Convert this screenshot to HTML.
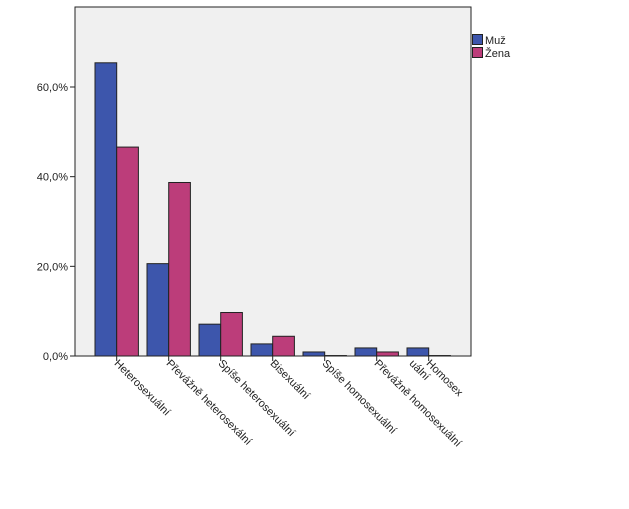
<!DOCTYPE html>
<html><head><meta charset="utf-8"><style>
body{margin:0;background:#fff;}
svg text{font-family:"Liberation Sans",sans-serif;font-size:11px;fill:#222;}
</style></head><body>
<svg id="chart" width="629" height="504" xmlns="http://www.w3.org/2000/svg">
<rect x="75" y="7" width="396" height="349" fill="#f0f0f0" stroke="#222" stroke-width="1"/>
<g id="bars"></g><g id="axes"></g>
<g>
<rect x="472.5" y="34.5" width="10" height="10" fill="#3d56ac" stroke="#222"/>
<text x="485" y="44">Muž</text>
<rect x="472.5" y="47.5" width="10" height="10" fill="#bc3d7a" stroke="#222"/>
<text x="485" y="57">Žena</text>
</g>
</svg>
<script>
const categories=["Heterosexuální","Převážně heterosexální","Spíše heterosexuální","Bisexuální","Spíše homosexuální","Převážně homosexuální","Homosex|uální"];
const muz=[65.4,20.6,7.1,2.7,0.9,1.8,1.8];
const zena=[46.6,38.7,9.7,4.4,0.1,0.9,0.1];
const ticks=[0,20,40,60];
const tickLabels=["0,0%","20,0%","40,0%","60,0%"];
const NS="http://www.w3.org/2000/svg";
const y0=356,pxPer=4.4833;
function y(v){return y0-v*pxPer;}
function xc(i){return 116.7+i*52;}
function mk(t,a,p){const e=document.createElementNS(NS,t);for(const k in a)e.setAttribute(k,a[k]);p.appendChild(e);return e;}
const bars=document.getElementById('bars'),axes=document.getElementById('axes');
categories.forEach((c,i)=>{
  const m=mk('rect',{x:xc(i)-21.7,y:y(muz[i]),width:21.7,height:y0-y(muz[i]),fill:'#3d56ac',stroke:'#222','stroke-width':1},bars);
  
  
  const z=mk('rect',{x:xc(i),y:y(zena[i]),width:21.7,height:y0-y(zena[i]),fill:'#bc3d7a',stroke:'#222','stroke-width':1},bars);
  
  
  const tk=mk('line',{x1:xc(i),x2:xc(i),y1:y0,y2:y0+5,stroke:'#222'},axes);
  
  
  const t=mk('text',{transform:`translate(${xc(i)-3},${y0+8}) rotate(45)`},axes);
  
  
  c.split('|').forEach((s,j)=>{const ts=mk('tspan',{x:j?-12:0,dy:j?12:0},t);ts.textContent=s;});
});
ticks.forEach((v,i)=>{
  const l=mk('line',{x1:70,x2:75,y1:y(v),y2:y(v),stroke:'#222'},axes);
  
  
  const t=mk('text',{x:68,y:y(v)+4,'text-anchor':'end'},axes);
  
  
  t.textContent=tickLabels[i];
});
</script>
</body></html>
